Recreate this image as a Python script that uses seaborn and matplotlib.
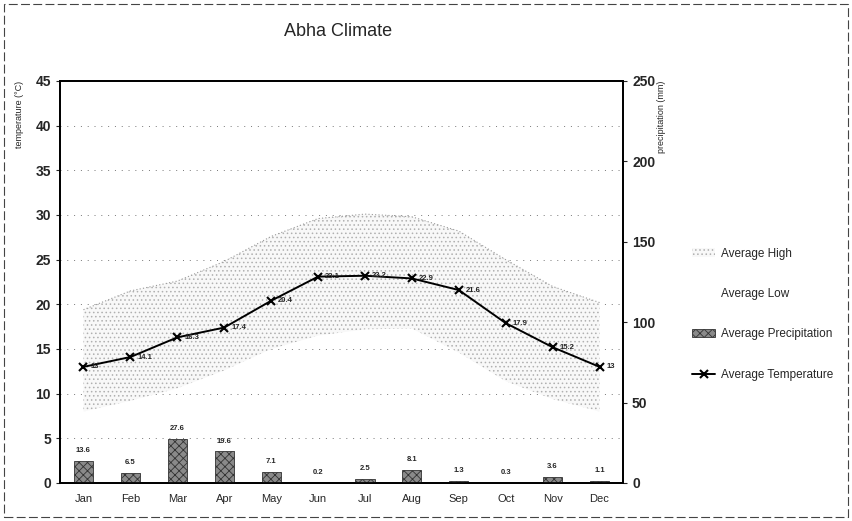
import numpy as np
import pandas as pd
import matplotlib.pyplot as plt
import seaborn as sns
from matplotlib.patches import Patch, Rectangle
from matplotlib.lines import Line2D

# Abha climate values
months = ['Jan', 'Feb', 'Mar', 'Apr', 'May', 'Jun', 'Jul', 'Aug', 'Sep', 'Oct', 'Nov', 'Dec']
avg_high = [19.4, 21.5, 22.6, 24.8, 27.6, 29.6, 30.1, 29.8, 28.2, 25.0, 22.0, 20.2]
avg_low = [8.0, 9.2, 10.6, 12.6, 15.0, 16.5, 17.2, 17.3, 14.6, 11.4, 9.4, 8.0]
avg_temp = [13, 14.1, 16.3, 17.4, 20.4, 23.1, 23.2, 22.9, 21.6, 17.9, 15.2, 13]
precip = [13.6, 6.5, 27.6, 19.6, 7.1, 0.2, 2.5, 8.1, 1.3, 0.3, 3.6, 1.1]

df = pd.DataFrame({'month': months, 'high': avg_high, 'low': avg_low,
                   'temp': avg_temp, 'precip': precip})

sns.set_style('white')
plt.rcParams['font.family'] = ['Liberation Sans', 'DejaVu Sans']
plt.rcParams['hatch.linewidth'] = 0.6

fig = plt.figure(figsize=(8.52, 5.21), dpi=100)
W, H = 852, 521
ax = fig.add_axes([60 / W, 1 - 483 / H, (623 - 60) / W, (483 - 81) / H])
ax2 = ax.twinx()

# stippled high/low band
xs = np.arange(len(months))
ax.fill_between(xs, df['low'], df['high'], facecolor='#f8f8f8', edgecolor='#b0b0b0',
                hatch='....', linewidth=0, zorder=1)
ax.plot(xs, df['high'], color='#9a9a9a', lw=0.8, ls=(0, (1, 2)), zorder=2)

# average temperature line
sns.lineplot(data=df, x='month', y='temp', ax=ax, color='black', marker='x',
             markersize=6, markeredgewidth=1.5, markeredgecolor='black',
             linewidth=1.4, sort=False, zorder=4)
for i, t in enumerate(avg_temp):
    ax.annotate(f'{t:g}', (i, t), xytext=(5, 0), textcoords='offset points',
                ha='left', va='center', fontsize=5.5, fontweight='bold', zorder=5)

# precipitation bars
sns.barplot(data=df, x='month', y='precip', ax=ax2, width=0.41, color='#8a8a8a',
            edgecolor='#333333', hatch='xxxx', linewidth=0.6, saturation=1)
for i, p in enumerate(precip):
    ax2.annotate(f'{p:g}', (i, p), xytext=(0, 5), textcoords='offset points',
                 ha='center', va='bottom', fontsize=5.5, fontweight='bold')

ax.set_xlim(-0.5, 11.5)
ax.set_ylim(0, 45)
ax2.set_ylim(0, 250)
ax.set_yticks(range(0, 46, 5))
ax2.set_yticks(range(0, 251, 50))

for y in range(5, 45, 5):
    ax.axhline(y, color='#777777', lw=0.7, ls=(0, (1, 6)), zorder=0)

ax.set_xlabel('')
ax2.set_xlabel('')
ax.set_ylabel('temperature (°C)', fontsize=6.5, loc='top', labelpad=8)
ax2.set_ylabel('precipitation (mm)', fontsize=6.5, loc='top', rotation=90, labelpad=1)
ax.tick_params(axis='y', labelsize=10, length=3, direction='out', left=True)
ax2.tick_params(axis='y', labelsize=10, length=3, direction='out', right=True)
ax.tick_params(axis='x', labelsize=8, length=0, pad=8)
for lab in ax.get_yticklabels() + ax2.get_yticklabels():
    lab.set_fontweight('bold')

for a in (ax, ax2):
    for s in a.spines.values():
        s.set_color('black')
        s.set_linewidth(1.3)

fig.text(338 / W, 1 - 31 / H, 'Abha Climate', ha='center', va='center', fontsize=13)

handles = [
    Patch(facecolor='#f8f8f8', edgecolor='#b0b0b0', hatch='....', linewidth=0),
    Patch(facecolor='white', edgecolor='white'),
    Patch(facecolor='#8a8a8a', edgecolor='#333333', hatch='xxxx', linewidth=0.6),
    Line2D([0], [0], color='black', marker='x', markersize=6, markeredgewidth=1.5, lw=1.4),
]
labels = ['Average High', 'Average Low', 'Average Precipitation', 'Average Temperature']
fig.legend(handles, labels, loc='upper left', bbox_to_anchor=(687 / W, 1 - 243 / H),
           frameon=False, fontsize=8.5, labelspacing=2.4, handlelength=2.0,
           handletextpad=0.5, borderaxespad=0)

fig.add_artist(Rectangle((4 / W, 4 / H), 1 - 8 / W, 1 - 8 / H, transform=fig.transFigure,
                         fill=False, edgecolor='#444444', lw=0.8, ls=(0, (8, 3))))

fig.savefig('out.png', dpi=100)
